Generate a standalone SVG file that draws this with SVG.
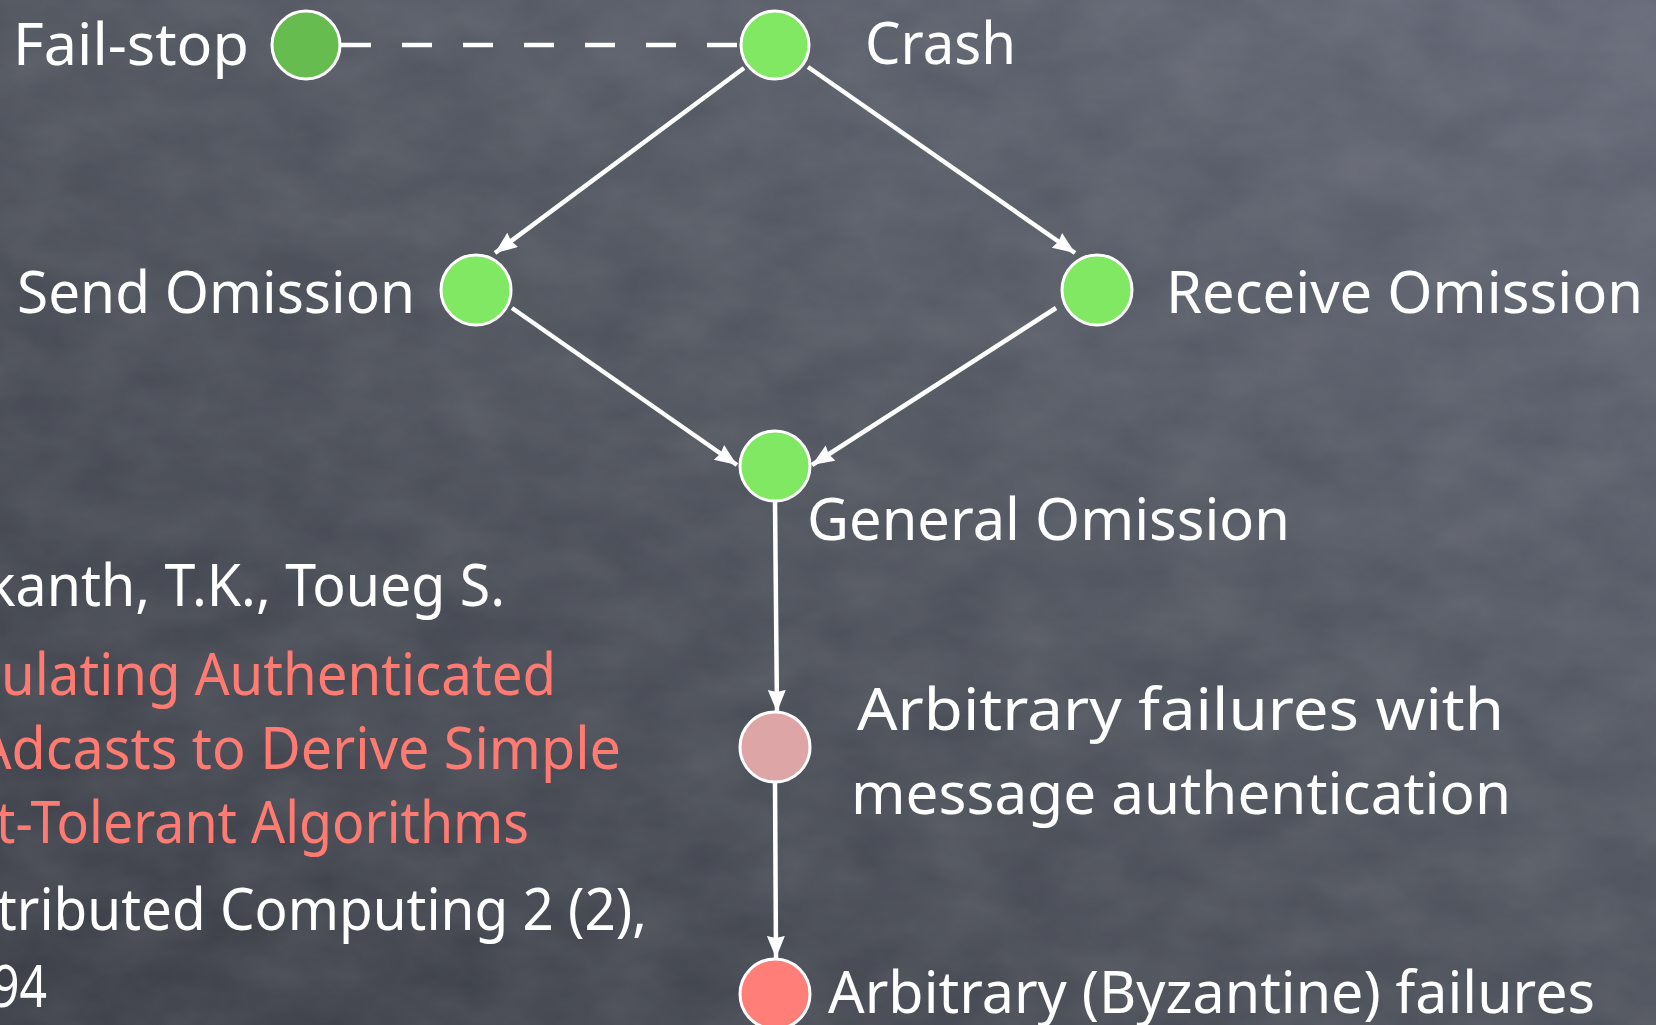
<svg xmlns="http://www.w3.org/2000/svg" width="1656" height="1025" viewBox="0 0 1656 1025">
<defs>
<linearGradient id="bg" x1="1" y1="0" x2="0" y2="1">
<stop offset="0" stop-color="#636775"/>
<stop offset="0.45" stop-color="#51555f"/>
<stop offset="1" stop-color="#3a3d46"/>
</linearGradient>
<filter id="chalk" x="0" y="0" width="100%" height="100%">
<feTurbulence type="fractalNoise" baseFrequency="0.012 0.02" numOctaves="4" seed="3" result="n"/>
<feColorMatrix type="matrix" values="0 0 0 0 1  0 0 0 0 1  0 0 0 0 1  0 0 0 0.12 -0.02"/>
</filter>
<marker id="arr" markerUnits="userSpaceOnUse" markerWidth="24" markerHeight="20" refX="22" refY="9" orient="auto">
<path d="M0,0 L22,9 L0,18 L2,9 Z" fill="#ffffff"/>
</marker>
<style>
.lbl{font-family:"Noto Sans","DejaVu Sans",sans-serif;font-size:58px;fill:#ffffff}
.red{fill:#ff7b72}
.edge{stroke:#ffffff;stroke-width:4.5;fill:none;stroke-linecap:butt}
.node{stroke:#ffffff;stroke-width:3}
</style>
</defs>
<rect width="1656" height="1025" fill="url(#bg)"/>
<rect width="1656" height="1025" filter="url(#chalk)"/>

<g id="connectors">
<line class="edge" x1="341" y1="45" x2="740" y2="45" stroke-dasharray="30 31" stroke-width="5"/>
<line class="edge" x1="744" y1="68" x2="495" y2="253" marker-end="url(#arr)"/>
<line class="edge" x1="808" y1="67" x2="1075" y2="253" marker-end="url(#arr)"/>
<line class="edge" x1="512" y1="308" x2="737" y2="465" marker-end="url(#arr)"/>
<line class="edge" x1="1056" y1="308" x2="812" y2="465" marker-end="url(#arr)"/>
<line class="edge" x1="775" y1="502" x2="777" y2="712" marker-end="url(#arr)"/>
<line class="edge" x1="775" y1="782" x2="776" y2="958" marker-end="url(#arr)"/>
</g>

<g id="failstop">
<circle class="node" cx="306" cy="45" r="34" fill="#66bc4f"/>
<text class="lbl" x="13" y="65" textLength="236" lengthAdjust="spacingAndGlyphs">Fail-stop</text>
</g>
<g id="crash">
<circle class="node" cx="775" cy="45" r="34" fill="#80e862"/>
<text class="lbl" x="865" y="64" textLength="151" lengthAdjust="spacingAndGlyphs">Crash</text>
</g>
<g id="send-omission">
<circle class="node" cx="476" cy="290" r="35" fill="#80e862"/>
<text class="lbl" x="17" y="313" textLength="398" lengthAdjust="spacingAndGlyphs">Send Omission</text>
</g>
<g id="receive-omission">
<circle class="node" cx="1097" cy="290" r="35" fill="#80e862"/>
<text class="lbl" x="1166" y="313" textLength="477" lengthAdjust="spacingAndGlyphs">Receive Omission</text>
</g>
<g id="general-omission">
<circle class="node" cx="775" cy="466" r="35" fill="#80e862"/>
<text class="lbl" x="807" y="540" textLength="483" lengthAdjust="spacingAndGlyphs">General Omission</text>
</g>
<g id="auth">
<circle class="node" cx="775" cy="747" r="35" fill="#dda5a5"/>
<text class="lbl" x="857" y="730" textLength="647" lengthAdjust="spacingAndGlyphs">Arbitrary failures with</text>
<text class="lbl" x="851" y="814" textLength="660" lengthAdjust="spacingAndGlyphs">message authentication</text>
</g>
<g id="byzantine">
<circle class="node" cx="775" cy="994" r="35" fill="#ff7e78"/>
<text class="lbl" x="828" y="1013" textLength="767" lengthAdjust="spacingAndGlyphs">Arbitrary (Byzantine) failures</text>
</g>

<g id="reference">
<text class="lbl" x="-14" y="606" textLength="519" lengthAdjust="spacingAndGlyphs">kanth, T.K., Toueg S.</text>
<text class="lbl red" x="1" y="695" textLength="555" lengthAdjust="spacingAndGlyphs">ulating Authenticated</text>
<text class="lbl red" x="-24" y="769" textLength="645" lengthAdjust="spacingAndGlyphs">Adcasts to Derive Simple</text>
<text class="lbl red" x="-4" y="843" textLength="533" lengthAdjust="spacingAndGlyphs">t-Tolerant Algorithms</text>
<text class="lbl" x="-3" y="930" textLength="650" lengthAdjust="spacingAndGlyphs">tributed Computing 2 (2),</text>
<text class="lbl" x="-8" y="1007" textLength="55" lengthAdjust="spacingAndGlyphs">94</text>
</g>
</svg>
